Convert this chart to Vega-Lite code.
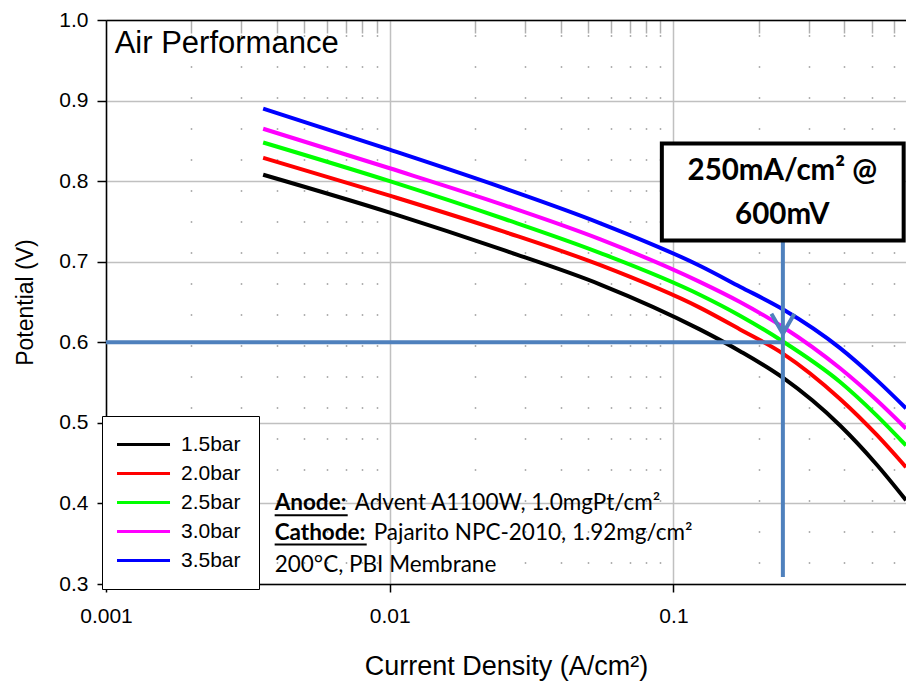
{
  "$schema": "https://vega.github.io/schema/vega-lite/v6.json",
  "width": 800,
  "height": 564,
  "autosize": {"type": "none"},
  "padding": {"left": 106, "top": 20, "right": 0, "bottom": 99},
  "background": "white",
  "config": {
    "view": {"stroke": null},
    "font": "Liberation Sans",
    "axis": {
      "domainColor": "black", "domainWidth": 1.5,
      "tickColor": "black", "tickWidth": 1.5,
      "gridColor": "#c0c0c0", "gridWidth": 1.5,
      "labelColor": "black", "titleColor": "black",
      "labelFont": "Liberation Sans", "titleFont": "Liberation Sans",
      "titleFontWeight": "normal"
    }
  },
  "resolve": {"axis": {"x": "independent", "y": "independent"}},
  "datasets": {
    "curves": [
      {"j": 0.00358, "V": 0.808, "p": "1.5bar"}, {"j": 0.01, "V": 0.761, "p": "1.5bar"}, {"j": 0.0254, "V": 0.714, "p": "1.5bar"}, {"j": 0.055, "V": 0.672, "p": "1.5bar"}, {"j": 0.1238, "V": 0.616, "p": "1.5bar"}, {"j": 0.1716, "V": 0.589, "p": "1.5bar"}, {"j": 0.243, "V": 0.556, "p": "1.5bar"}, {"j": 0.3857, "V": 0.497, "p": "1.5bar"}, {"j": 0.5208, "V": 0.448, "p": "1.5bar"}, {"j": 0.66, "V": 0.404, "p": "1.5bar"},
      {"j": 0.00358, "V": 0.829, "p": "2.0bar"}, {"j": 0.01, "V": 0.782, "p": "2.0bar"}, {"j": 0.0254, "V": 0.737, "p": "2.0bar"}, {"j": 0.055, "V": 0.696, "p": "2.0bar"}, {"j": 0.1238, "V": 0.643, "p": "2.0bar"}, {"j": 0.1716, "V": 0.616, "p": "2.0bar"}, {"j": 0.243, "V": 0.586, "p": "2.0bar"}, {"j": 0.3857, "V": 0.530, "p": "2.0bar"}, {"j": 0.5208, "V": 0.485, "p": "2.0bar"}, {"j": 0.66, "V": 0.445, "p": "2.0bar"},
      {"j": 0.00358, "V": 0.848, "p": "2.5bar"}, {"j": 0.01, "V": 0.800, "p": "2.5bar"}, {"j": 0.0254, "V": 0.753, "p": "2.5bar"}, {"j": 0.055, "V": 0.711, "p": "2.5bar"}, {"j": 0.1238, "V": 0.659, "p": "2.5bar"}, {"j": 0.1716, "V": 0.633, "p": "2.5bar"}, {"j": 0.243, "V": 0.601, "p": "2.5bar"}, {"j": 0.3857, "V": 0.551, "p": "2.5bar"}, {"j": 0.5208, "V": 0.509, "p": "2.5bar"}, {"j": 0.66, "V": 0.472, "p": "2.5bar"},
      {"j": 0.00358, "V": 0.865, "p": "3.0bar"}, {"j": 0.01, "V": 0.816, "p": "3.0bar"}, {"j": 0.0254, "V": 0.770, "p": "3.0bar"}, {"j": 0.055, "V": 0.728, "p": "3.0bar"}, {"j": 0.1238, "V": 0.675, "p": "3.0bar"}, {"j": 0.1716, "V": 0.650, "p": "3.0bar"}, {"j": 0.243, "V": 0.619, "p": "3.0bar"}, {"j": 0.3857, "V": 0.568, "p": "3.0bar"}, {"j": 0.5208, "V": 0.528, "p": "3.0bar"}, {"j": 0.66, "V": 0.493, "p": "3.0bar"},
      {"j": 0.00358, "V": 0.890, "p": "3.5bar"}, {"j": 0.01, "V": 0.839, "p": "3.5bar"}, {"j": 0.0254, "V": 0.791, "p": "3.5bar"}, {"j": 0.055, "V": 0.748, "p": "3.5bar"}, {"j": 0.1238, "V": 0.695, "p": "3.5bar"}, {"j": 0.1716, "V": 0.669, "p": "3.5bar"}, {"j": 0.243, "V": 0.641, "p": "3.5bar"}, {"j": 0.3857, "V": 0.593, "p": "3.5bar"}, {"j": 0.5208, "V": 0.553, "p": "3.5bar"}, {"j": 0.66, "V": 0.518, "p": "3.5bar"}
    ],
    "guides": [
      {"x": 0.001, "y": 0.6, "x2": 0.243, "y2": 0.6},
      {"x": 0.243, "y": 0.7264, "x2": 0.243, "y2": 0.3087}
    ],
    "arrow": [{"x": 0.243, "y": 0.623}],
    "box": [{"x": 0.091, "x2": 0.6476, "y": 0.7264, "y2": 0.8468}],
    "boxtext": [
      {"x": 0.242, "y": 0.812, "t": "250mA/cm² @"},
      {"x": 0.242, "y": 0.7575, "t": "600mV"}
    ],
    "title": [{"x": 0.001073, "y": 0.9696, "t": "Air Performance"}],
    "infobold": [
      {"x": 0.00393, "y": 0.4001, "t": "Anode:"},
      {"x": 0.00393, "y": 0.3629, "t": "Cathode:"}
    ],
    "infonormal": [
      {"x": 0.00753, "y": 0.4001, "t": "Advent A1100W, 1.0mgPt/cm²"},
      {"x": 0.00878, "y": 0.3629, "t": "Pajarito NPC-2010, 1.92mg/cm²"},
      {"x": 0.00393, "y": 0.3232, "t": "200°C, PBI Membrane"}
    ],
    "underline": [
      {"x": 0.00393, "x2": 0.00711, "y": 0.3853},
      {"x": 0.00393, "x2": 0.008296, "y": 0.3489}
    ]
  },
  "layer": [
    {
      "data": {"name": "curves"},
      "mark": {"type": "line", "strokeWidth": 4, "interpolate": "monotone", "clip": true},
      "encoding": {
        "x": {
          "field": "j", "type": "quantitative",
          "scale": {"type": "log", "domain": [0.001, 0.66], "nice": false},
          "axis": {"orient": "bottom", "values": [0.001, 0.01, 0.1], "format": ".3~f", "grid": true, "tickSize": 8, "labelFontSize": 21, "labelPadding": 13, "labelFlush": false, "title": "Current Density (A/cm²)", "titleFontSize": 27, "titlePadding": 27}
        },
        "y": {
          "field": "V", "type": "quantitative",
          "scale": {"domain": [0.3, 1.0], "nice": false, "zero": false},
          "axis": {"values": [0.3, 0.4, 0.5, 0.6, 0.7, 0.8, 0.9, 1.0], "format": ".1f", "grid": true, "tickSize": 9, "labelFontSize": 21, "labelPadding": 9, "labelFlush": false, "title": "Potential (V)", "titleFontSize": 23, "titlePadding": 21}
        },
        "color": {
          "field": "p", "type": "nominal",
          "scale": {"domain": ["1.5bar", "2.0bar", "2.5bar", "3.0bar", "3.5bar"], "range": ["#000000", "#ff0000", "#00ff00", "#ff00ff", "#0000ff"]},
          "legend": {
            "orient": "none", "legendX": -4, "legendY": 396, "title": null,
            "symbolType": "M-1.5,0H4.39", "symbolSize": 324, "symbolStrokeWidth": 3,
            "labelFont": "Liberation Sans", "labelFontSize": 21, "labelColor": "black", "labelOffset": 40,
            "rowPadding": 7, "padding": 18, "strokeColor": "black", "fillColor": "white"
          }
        }
      }
    },
    {
      "data": {"name": "guides"},
      "mark": {"type": "rule", "stroke": "#4f81bd", "strokeWidth": 4},
      "encoding": {
        "x": {
          "field": "x", "type": "quantitative",
          "axis": {"orient": "top", "values": [0.002, 0.003, 0.004, 0.005, 0.006, 0.007, 0.008, 0.009, 0.02, 0.03, 0.04, 0.05, 0.06, 0.07, 0.08, 0.09, 0.2, 0.3, 0.4, 0.5, 0.6], "labels": false, "title": null, "tickColor": "#b0b0b0", "tickSize": -13, "grid": true, "gridColor": "#b0b0b0", "gridWidth": 1.5, "gridDash": [2, 29], "gridDashOffset": 10.5}
        },
        "y": {"field": "y", "type": "quantitative", "axis": null},
        "x2": {"field": "x2"},
        "y2": {"field": "y2"}
      }
    },
    {
      "data": {"name": "arrow"},
      "mark": {"type": "point", "shape": "M-0.575,-0.5L0,0.5L0.575,-0.5", "size": 1600, "filled": false, "stroke": "#4f81bd", "strokeWidth": 4, "opacity": 1},
      "encoding": {
        "x": {"field": "x", "type": "quantitative", "axis": null},
        "y": {"field": "y", "type": "quantitative", "axis": null}
      }
    },
    {
      "data": {"name": "box"},
      "mark": {"type": "rect", "fill": "white", "stroke": "black", "strokeWidth": 4},
      "encoding": {
        "x": {"field": "x", "type": "quantitative", "axis": null},
        "x2": {"field": "x2"},
        "y": {"field": "y", "type": "quantitative", "axis": null},
        "y2": {"field": "y2"}
      }
    },
    {
      "data": {"name": "boxtext"},
      "mark": {"type": "text", "font": "Lato", "fontWeight": "bold", "fontSize": 29.5, "align": "center", "baseline": "middle", "color": "black"},
      "encoding": {
        "x": {"field": "x", "type": "quantitative", "axis": null},
        "y": {"field": "y", "type": "quantitative", "axis": null},
        "text": {"field": "t"}
      }
    },
    {
      "data": {"name": "title"},
      "mark": {"type": "text", "font": "Liberation Sans", "fontSize": 31, "align": "left", "baseline": "middle", "color": "black"},
      "encoding": {
        "x": {"field": "x", "type": "quantitative", "axis": null},
        "y": {"field": "y", "type": "quantitative", "axis": null},
        "text": {"field": "t"}
      }
    },
    {
      "data": {"name": "infobold"},
      "mark": {"type": "text", "font": "Lato", "fontWeight": "bold", "fontSize": 22.5, "align": "left", "baseline": "middle", "color": "black"},
      "encoding": {
        "x": {"field": "x", "type": "quantitative", "axis": null},
        "y": {"field": "y", "type": "quantitative", "axis": null},
        "text": {"field": "t"}
      }
    },
    {
      "data": {"name": "infonormal"},
      "mark": {"type": "text", "font": "Lato", "fontSize": 22.5, "align": "left", "baseline": "middle", "color": "black"},
      "encoding": {
        "x": {"field": "x", "type": "quantitative", "axis": null},
        "y": {"field": "y", "type": "quantitative", "axis": null},
        "text": {"field": "t"}
      }
    },
    {
      "data": {"name": "underline"},
      "mark": {"type": "rule", "stroke": "black", "strokeWidth": 2},
      "encoding": {
        "x": {"field": "x", "type": "quantitative", "axis": null},
        "x2": {"field": "x2"},
        "y": {"field": "y", "type": "quantitative", "axis": null}
      }
    }
  ]
}
